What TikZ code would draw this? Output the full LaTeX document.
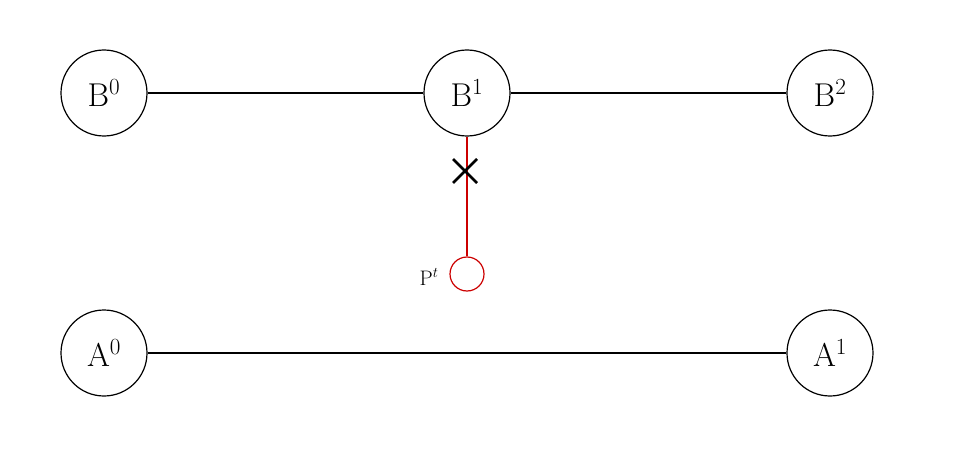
\documentclass[tikz,border=0pt]{standalone}
\usepackage{fix-cm}
\usetikzlibrary{calc}
\begin{document}
\begin{tikzpicture}[x=1pt,y=-1pt,
  st/.style={circle,draw,line width=1.2pt,minimum size=86pt,inner sep=0pt,font=\fontsize{33}{38}\selectfont},
  ln/.style={line width=1.2pt},
  rd/.style={draw=red!80!black,line width=2.6pt}]
\useasboundingbox (0,0) rectangle (962,452);
\node[st] (B0) at (104,93) {B$^0$};
\node[st] (B1) at (467,93) {B$^1$};
\node[st] (B2) at (830,93) {B$^2$};
\node[st] (A0) at (104,353) {A$^0$};
\node[st] (A1) at (830,353) {A$^1$};
\node[circle,draw=red!80!black,line width=1.2pt,minimum size=34pt,inner sep=0pt] (P) at (467,274) {};
\node[font=\fontsize{21}{24}\selectfont,anchor=east] (PL) at (442,277) {P$^t$};
\draw[ln] (B0) -- (B1);
\draw[ln] (B1) -- (B2);
\draw[ln] (A0) -- (A1);
\draw[rd] (B1) -- (P);
\coordinate (X) at (465,171);
\draw[line width=2.6pt] ($(X)+(-12,-12)$) -- ($(X)+(12,12)$) ($(X)+(-12,12)$) -- ($(X)+(12,-12)$);
\end{tikzpicture}
\end{document}
